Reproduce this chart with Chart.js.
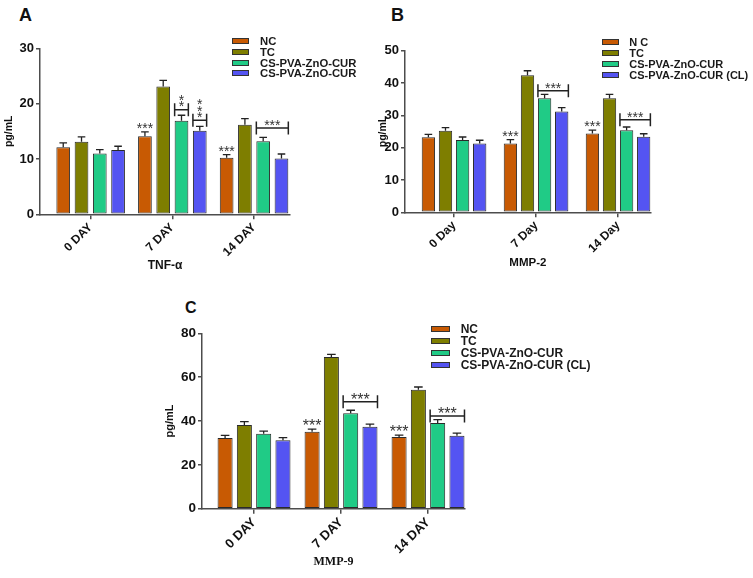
<!DOCTYPE html>
<html>
<head>
<meta charset="utf-8">
<script src="https://cdn.jsdelivr.net/npm/chart.js@4.4.0/dist/chart.umd.min.js"></script>
<style>
  body { margin: 0; background: #fff; width: 753px; height: 578px; overflow: hidden; position: relative;
         font-family: 'Liberation Sans', Arial, sans-serif; }
  .box { position: absolute; }
  .letter { position: absolute; font-weight: bold; color: #111; line-height: 1; }
  .legend { position: absolute; font-weight: bold; color: #1a1a1a; }
  .legend .row { display: flex; align-items: center; white-space: nowrap; }
  .legend .sw { border: 1px solid #333; box-sizing: border-box; flex: none; }
</style>
</head>
<body>

<div class="letter" style="left:19px;top:5.6px;font-size:18px">A</div>
<div class="letter" style="left:391px;top:5.6px;font-size:18px">B</div>
<div class="letter" style="left:185px;top:300px;font-size:16px">C</div>

<div class="box" style="left:0;top:0"><canvas id="chartA" width="375" height="280"></canvas></div>
<div class="box" style="left:370px;top:0"><canvas id="chartB" width="383" height="280"></canvas></div>
<div class="box" style="left:155px;top:280px"><canvas id="chartC" width="415" height="298"></canvas></div>

<div class="legend" id="legA"></div>
<div class="legend" id="legB"></div>
<div class="legend" id="legC"></div>

<script>
const daysUpper = ['0 DAY', '7 DAY', '14 DAY'];
const daysLower = ['0 Day', '7 Day', '14 Day'];

const groupsA = ['NC', 'TC', 'CS-PVA-ZnO-CUR', 'CS-PVA-ZnO-CUR'];
const groupsB = ['N C', 'TC', 'CS-PVA-ZnO-CUR', 'CS-PVA-ZnO-CUR (CL)'];
const groupsC = ['NC', 'TC', 'CS-PVA-ZnO-CUR', 'CS-PVA-ZnO-CUR (CL)'];

const colors = ['#C85A03', '#7E7E00', '#20CB86', '#5454F2'];

const yTicksA = [0, 10, 20, 30];
const yTicksB = [0, 10, 20, 30, 40, 50];
const yTicksC = [0, 20, 40, 60, 80];

// TNF-alpha (pg/mL)
const tnfNC    = [12.1, 14.1, 10.2];
const tnfTC    = [13.1, 23.1, 16.2];
const tnfCur   = [11.0, 16.9, 13.2];
const tnfCurCL = [11.6, 15.1, 10.1];
const tnfErrNC    = [0.8, 0.8, 0.6];
const tnfErrTC    = [0.9, 1.1, 1.1];
const tnfErrCur   = [0.7, 1.0, 0.7];
const tnfErrCurCL = [0.7, 0.8, 0.8];

// MMP-2 (pg/mL)
const mmp2NC    = [23.2, 21.3, 24.4];
const mmp2TC    = [25.2, 42.4, 35.3];
const mmp2Cur   = [22.4, 35.3, 25.4];
const mmp2CurCL = [21.3, 31.2, 23.4];
const mmp2ErrNC    = [0.9, 1.2, 1.0];
const mmp2ErrTC    = [1.0, 1.4, 1.2];
const mmp2ErrCur   = [0.9, 1.2, 1.0];
const mmp2ErrCurCL = [1.0, 1.2, 0.9];

// MMP-9 (pg/mL)
const mmp9NC    = [32.2, 35.1, 32.7];
const mmp9TC    = [38.2, 69.2, 54.3];
const mmp9Cur   = [34.2, 43.5, 39.1];
const mmp9CurCL = [31.2, 37.4, 33.3];
const mmp9ErrNC    = [1.2, 1.2, 0.9];
const mmp9ErrTC    = [1.5, 1.2, 1.2];
const mmp9ErrCur   = [1.2, 1.4, 1.5];
const mmp9ErrCurCL = [1.2, 1.2, 1.2];

// significance marks: stars over NC, brackets over treated groups
const ncStars = ['', '***', '***'];
const tnfBrackets = [
  { day: 1, from: 2, to: 2, level: 18.9, stars: '**', stacked: true },
  { day: 1, from: 3, to: 3, level: 17.0, stars: '***', stacked: true },
  { day: 2, from: 2, to: 3, level: 15.6, stars: '***' }
];
const mmp2Brackets = [
  { day: 1, from: 2, to: 3, level: 37.6, stars: '***' },
  { day: 2, from: 2, to: 3, level: 28.6, stars: '***' }
];
const mmp9Brackets = [
  { day: 1, from: 2, to: 3, level: 48.8, stars: '***' },
  { day: 2, from: 2, to: 3, level: 42.3, stars: '***' }
];

const SANS = '"Liberation Sans", Arial, sans-serif';
const SERIF = '"Liberation Serif", "Times New Roman", serif';
const axisColor = '#4d4d4d';
const inkColor = '#222';

// error bars (upper half) + significance annotations
const sigPlugin = {
  id: 'sigMarks',
  afterDatasetsDraw(chart, args, opts) {
    const { ctx } = chart;
    const y = chart.scales.y;
    ctx.save();
    ctx.strokeStyle = inkColor;
    ctx.lineWidth = 1.3;
    chart.data.datasets.forEach((ds, di) => {
      chart.getDatasetMeta(di).data.forEach((bar, i) => {
        const top = y.getPixelForValue(ds.data[i].y + ds.errors[i]);
        ctx.beginPath();
        ctx.moveTo(bar.x, bar.y);
        ctx.lineTo(bar.x, top);
        ctx.moveTo(bar.x - opts.cap, top);
        ctx.lineTo(bar.x + opts.cap, top);
        ctx.stroke();
      });
    });

    ctx.font = opts.starSize + 'px ' + SANS;
    ctx.fillStyle = '#333';
    ctx.textAlign = 'center';
    ctx.textBaseline = 'alphabetic';
    const drop = opts.starSize * 0.57;

    const ncDs = chart.data.datasets[0];
    const ncMeta = chart.getDatasetMeta(0);
    opts.ncStars.forEach((s, i) => {
      if (!s) return;
      const bar = ncMeta.data[i];
      const top = y.getPixelForValue(ncDs.data[i].y + ncDs.errors[i]);
      ctx.fillText(s, bar.x, top - 7 + drop);
    });

    ctx.lineWidth = 1.5;
    ctx.strokeStyle = inkColor;
    opts.brackets.forEach(b => {
      const b1 = chart.getDatasetMeta(b.from).data[b.day];
      const b2 = chart.getDatasetMeta(b.to).data[b.day];
      const x1 = b1.x - b1.width / 2;
      const x2 = b2.x + b2.width / 2;
      const yy = y.getPixelForValue(b.level);
      ctx.beginPath();
      ctx.moveTo(x1, yy); ctx.lineTo(x2, yy);
      ctx.moveTo(x1, yy - 6.5); ctx.lineTo(x1, yy + 6.5);
      ctx.moveTo(x2, yy - 6.5); ctx.lineTo(x2, yy + 6.5);
      ctx.stroke();
      const cx = (x1 + x2) / 2;
      if (b.stacked) {
        for (let k = 0; k < b.stars.length; k++) {
          ctx.fillText('*', cx, yy - 6.5 - k * 6.2 + drop);
        }
      } else {
        ctx.fillText(b.stars, cx, yy - 6 + drop);
      }
    });
    ctx.restore();
  }
};

function makePanel(id, o) {
  const tickFont = { family: SANS, weight: 'bold', size: o.tickSize };
  return new Chart(document.getElementById(id), {
    type: 'bar',
    data: {
      datasets: o.series.map((vals, k) => ({
        label: o.groups[k],
        data: vals.map((v, i) => ({ x: i, y: v })),
        errors: o.errors[k],
        backgroundColor: colors[k],
        borderColor: '#2a2a2a',
        borderWidth: 1,
        borderSkipped: false,
        categoryPercentage: o.catPct,
        barPercentage: o.barPct
      }))
    },
    options: {
      responsive: false,
      animation: false,
      devicePixelRatio: 1,
      layout: { padding: o.pad },
      plugins: {
        legend: { display: false },
        tooltip: { enabled: false },
        sigMarks: { cap: o.cap, starSize: o.starSize, ncStars: ncStars, brackets: o.brackets }
      },
      scales: {
        x: {
          type: 'linear',
          min: o.xMin, max: o.xMax,
          bounds: 'data',
          offset: false,
          afterBuildTicks: s => { s.ticks = o.days.map((d, i) => ({ value: i })); },
          afterFit: s => { s.height = o.xHeight; },
          ticks: {
            autoSkip: false, minRotation: 45, maxRotation: 45, padding: 1,
            color: '#111', font: { family: SANS, weight: 'bold', size: o.xTickSize },
            callback: v => o.days[v]
          },
          grid: { display: true, offset: false, drawOnChartArea: false, drawTicks: true,
                  tickLength: 5, color: axisColor, lineWidth: 1.5 },
          border: { color: axisColor, width: 1.5 },
          title: { display: true, text: o.title, color: '#111', font: o.titleFont,
                   padding: { top: 0, bottom: o.xTitlePad } }
        },
        y: {
          min: 0, max: o.yMax,
          afterBuildTicks: s => { s.ticks = o.yTicks.map(v => ({ value: v })); },
          afterFit: s => { s.width = o.yWidth; },
          ticks: { autoSkip: false, padding: 2, color: '#111', font: tickFont },
          grid: { display: true, drawOnChartArea: false, drawTicks: true,
                  tickLength: 4, color: axisColor, lineWidth: 1.5 },
          border: { color: axisColor, width: 1.5 },
          title: { display: true, text: 'pg/mL', color: '#111',
                   font: { family: SANS, weight: 'bold', size: o.yTitleSize },
                   padding: { top: o.yTitlePad, bottom: 0 } }
        }
      }
    },
    plugins: [sigPlugin]
  });
}

function makeLegend(id, groups, g) {
  const el = document.getElementById(id);
  el.style.left = g.left + 'px';
  el.style.top = g.top + 'px';
  el.style.fontSize = g.font + 'px';
  groups.forEach((name, k) => {
    const row = document.createElement('div');
    row.className = 'row';
    row.style.height = g.row + 'px';
    const sw = document.createElement('span');
    sw.className = 'sw';
    sw.style.width = g.sw + 'px';
    sw.style.height = '6px';
    sw.style.background = colors[k];
    sw.style.marginRight = g.gap + 'px';
    const t = document.createElement('span');
    t.textContent = name;
    row.appendChild(sw);
    row.appendChild(t);
    el.appendChild(row);
  });
}

makePanel('chartA', {
  series: [tnfNC, tnfTC, tnfCur, tnfCurCL],
  errors: [tnfErrNC, tnfErrTC, tnfErrCur, tnfErrCurCL],
  groups: groupsA, days: daysUpper, brackets: tnfBrackets,
  title: 'TNF-\u03b1', titleFont: { family: SANS, weight: 'bold', size: 12 },
  yMax: 30, yTicks: yTicksA,
  xMin: -0.62, xMax: 2.44, catPct: 0.895, barPct: 0.75,
  pad: { left: 0, top: 48.3, right: 85, bottom: 0 },
  yWidth: 40, xHeight: 65.7, xTitlePad: 7, yTitlePad: 2.7, yTitleSize: 10.5,
  tickSize: 13, xTickSize: 12, cap: 3.8, starSize: 14
});

makePanel('chartB', {
  series: [mmp2NC, mmp2TC, mmp2Cur, mmp2CurCL],
  errors: [mmp2ErrNC, mmp2ErrTC, mmp2ErrCur, mmp2ErrCurCL],
  groups: groupsB, days: daysLower, brackets: mmp2Brackets,
  title: 'MMP-2', titleFont: { family: SANS, weight: 'bold', size: 11.5 },
  yMax: 50, yTicks: yTicksB,
  xMin: -0.598, xMax: 2.398, catPct: 0.834, barPct: 0.78,
  pad: { left: 0, top: 50.7, right: 102.3, bottom: 0 },
  yWidth: 35, xHeight: 67.7, xTitlePad: 10, yTitlePad: 6.7, yTitleSize: 10.5,
  tickSize: 13, xTickSize: 12, cap: 3.8, starSize: 14
});

const chartC = makePanel('chartC', {
  series: [mmp9NC, mmp9TC, mmp9Cur, mmp9CurCL],
  errors: [mmp9ErrNC, mmp9ErrTC, mmp9ErrCur, mmp9ErrCurCL],
  groups: groupsC, days: daysUpper, brackets: mmp9Brackets,
  title: 'MMP-9', titleFont: { family: SERIF, weight: 'bold', size: 12 },
  yMax: 80, yTicks: yTicksC,
  xMin: -0.598, xMax: 2.425, catPct: 0.887, barPct: 0.78,
  pad: { left: 0, top: 53.3, right: 105, bottom: 0 },
  yWidth: 47, xHeight: 69.3, xTitlePad: 9, yTitlePad: 8.7, yTitleSize: 11,
  tickSize: 13.5, xTickSize: 13, cap: 4.3, starSize: 16
});

makeLegend('legA', groupsA, { left: 231.7, top: 35.6, row: 10.8, font: 11.3, sw: 17.6, gap: 10.7 });
makeLegend('legB', groupsB, { left: 601.7, top: 36.1, row: 11.1, font: 11, sw: 17.6, gap: 10 });
makeLegend('legC', groupsC, { left: 431, top: 323.4, row: 11.9, font: 12, sw: 19, gap: 10.7 });

// force a layout pass once everything is placed (the 60 label on C went missing without it)
chartC.scales.y.getLabelItems();
document.elementFromPoint(186, 377);
</script>
</body>
</html>
